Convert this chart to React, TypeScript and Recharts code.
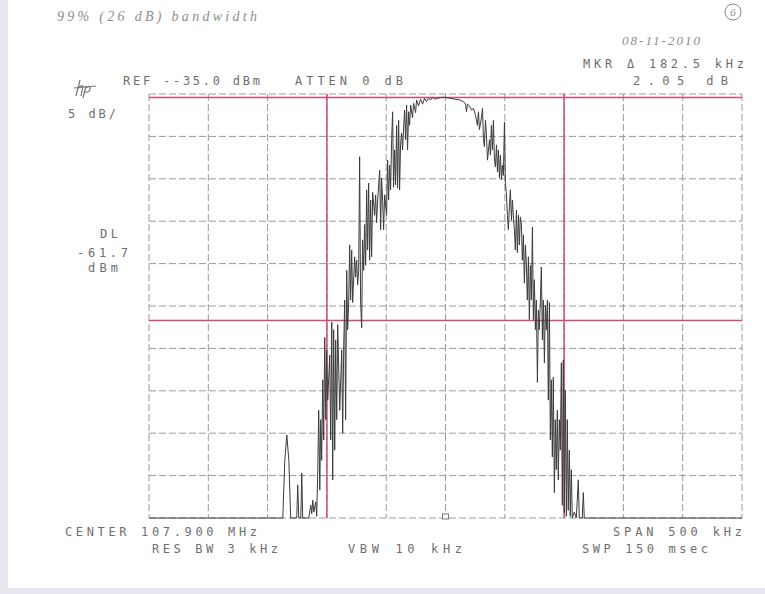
import React from 'react';
import { LineChart, Line, XAxis, YAxis, CartesianGrid, ReferenceLine, ReferenceDot } from 'recharts';

// sweep: offset from centre 107.900 MHz (kHz) and level (dBm)
const freqKHz = [
  -250, -137.2, -135.5, -133.8, -132.1, -130.5, -125.4, -124.6, -123.7, -122.0,
  -121.2, -120.4, -115.3, -113.6, -112.8, -111.9, -111.1, -109.4, -108.6, -107.7,
  -106.9, -106.0, -105.2, -104.4, -103.5, -102.7, -101.8, -101.0, -100.2, -99.3,
  -97.6, -96.8, -95.9, -95.1, -94.3, -93.4, -92.6, -91.7, -90.9, -89.2,
  -87.5, -86.7, -85.8, -85.0, -84.2, -83.3, -82.5, -81.6, -80.8, -80.0,
  -79.1, -78.3, -76.6, -75.8, -74.9, -74.1, -73.2, -72.4, -71.6, -70.7,
  -69.9, -69.0, -68.2, -67.3, -66.5, -65.7, -64.8, -64.0, -63.1, -62.3,
  -61.4, -59.8, -58.9, -58.1, -57.2, -55.5, -54.7, -53.9, -53.0, -52.2,
  -51.3, -49.7, -48.8, -48.0, -47.1, -46.3, -45.4, -44.6, -43.8, -42.9,
  -42.1, -41.2, -40.4, -39.5, -38.7, -37.9, -37.0, -36.2, -35.3, -34.5,
  -33.6, -32.8, -32.0, -31.1, -30.3, -29.4, -27.8, -26.9, -25.2, -24.4,
  -22.7, -21.0, -19.3, -17.7, -16.0, -14.3, -12.6, -10.9, -9.2, -6.7,
  -3.4, 0.0, 3.4, 7.6, 11.8, 15.2, 16.9, 17.7, 18.5, 20.2,
  21.9, 23.6, 25.3, 26.9, 27.8, 28.6, 30.3, 31.2, 32.0, 32.8,
  33.7, 34.5, 35.4, 37.1, 37.9, 38.7, 39.6, 40.4, 41.3, 42.1,
  43.0, 43.8, 44.6, 45.5, 46.3, 47.2, 48.0, 48.8, 49.7, 50.5,
  51.4, 52.2, 53.0, 53.9, 54.7, 55.6, 56.4, 57.3, 58.1, 58.9,
  59.8, 60.6, 61.5, 62.3, 63.1, 64.0, 64.8, 65.7, 66.5, 67.4,
  68.2, 69.0, 69.9, 70.7, 71.6, 72.4, 73.3, 74.1, 74.9, 75.8,
  76.6, 77.5, 78.3, 79.1, 80.0, 80.8, 81.7, 82.5, 83.4, 84.2,
  85.0, 85.9, 86.7, 87.6, 88.4, 89.2, 90.1, 90.9, 91.8, 92.6,
  93.4, 94.3, 95.1, 96.0, 96.8, 97.7, 98.5, 99.3, 100.2, 101.0,
  101.9, 102.7, 103.5, 104.4, 105.2, 106.1, 106.9, 108.6, 110.3, 111.1,
  112.0, 112.8, 115.3, 116.2, 117.0, 250,
];

const levelDBm = [
  -85, -85, -78.2, -75.2, -78.2, -85, -85, -81.1, -85, -85,
  -79.7, -85, -85, -83.5, -84.5, -82.9, -84.3, -83.1, -84.8, -79.3,
  -72.3, -81.7, -73.4, -78.2, -68.7, -75.8, -63.7, -73.4, -65.2, -71.1,
  -65.8, -75.8, -61.9, -80.5, -62.8, -77.0, -64.0, -73.4, -62.2, -72.3,
  -65.2, -75.0, -64.6, -59.3, -73.4, -55.8, -62.8, -59.3, -52.8, -59.3,
  -53.4, -59.6, -54.2, -56.6, -54.6, -57.5, -55.8, -42.4, -59.3, -62.6,
  -52.2, -55.8, -50.4, -55.2, -46.3, -53.4, -45.5, -54.6, -47.5, -54.2,
  -46.6, -49.3, -46.9, -50.2, -47.5, -44.0, -51.0, -44.9, -47.5, -51.0,
  -46.9, -49.3, -42.8, -47.5, -43.4, -46.3, -40.4, -37.1, -46.0, -41.6,
  -45.7, -38.7, -46.1, -38.1, -46.3, -41.0, -39.6, -41.6, -39.0, -36.9,
  -40.4, -36.3, -41.6, -37.1, -38.7, -36.3, -37.8, -36.1, -37.2, -35.7,
  -36.4, -35.6, -36.2, -35.5, -35.9, -35.5, -35.7, -35.4, -35.6, -35.5,
  -35.4, -35.4, -35.5, -35.6, -35.7, -35.9, -36.2, -37.1, -36.2, -36.4,
  -36.9, -36.7, -37.5, -38.7, -37.1, -39.2, -37.8, -36.7, -40.4, -41.2,
  -38.1, -39.8, -42.8, -40.4, -42.2, -38.7, -41.6, -38.1, -42.8, -43.6,
  -41.0, -44.2, -41.6, -44.9, -42.2, -45.1, -43.4, -44.6, -38.3, -45.5,
  -46.9, -49.3, -51.0, -48.1, -46.3, -49.9, -47.5, -49.6, -51.0, -53.4,
  -48.7, -53.7, -49.3, -52.8, -49.5, -50.4, -54.6, -51.6, -57.3, -52.8,
  -55.2, -59.3, -54.2, -61.6, -55.2, -59.3, -50.7, -61.6, -56.9, -62.8,
  -59.3, -69.0, -60.5, -62.8, -59.3, -55.4, -64.0, -59.3, -66.7, -59.9,
  -62.8, -59.3, -71.1, -59.6, -75.8, -68.7, -77.8, -68.4, -82.0, -73.4,
  -79.3, -72.3, -80.5, -73.4, -77.0, -66.7, -83.5, -66.4, -84.4, -69.9,
  -84.8, -73.4, -84.1, -77.0, -84.8, -79.3, -85, -84.3, -85, -82.9,
  -80.5, -85, -85, -82.0, -85, -85,
];

const freqTicks = [-250, -200, -150, -100, -50, 0, 50, 100, 150, 200, 250];
const levelTicks = [-85, -80, -75, -70, -65, -60, -55, -50, -45, -40, -35];

const markerLevel = -35.4;
const displayLine = -61.7;
const bandEdges = [-100, 100];

const data = freqKHz.map((f, i) => ({ f, dBm: levelDBm[i] }));

const PINK = '#d4487c';
const INK = '#6e6e6e';
const mono = { fontFamily: '"DejaVu Sans Mono", monospace', fontSize: 12, fill: INK };
const hand = { fontFamily: '"Liberation Serif", serif', fontStyle: 'italic' as const, fill: '#8c8c8c' };

const Label = ({ x, y, w, children, style = mono }: any) => (
  <text x={x} y={y} textLength={w} lengthAdjust="spacing" style={style}>
    {children}
  </text>
);

const CentreMark = (props: any) => {
  const { cx, cy } = props;
  return <rect x={cx - 3} y={cy - 4} width={6} height={5} fill="#fff" stroke="#777" strokeWidth={1} />;
};

export default function App() {
  return (
    <div style={{ position: 'absolute', left: 0, top: 0, width: 765, height: 594, background: '#fff', overflow: 'hidden' }}>
      <div style={{ position: 'absolute', left: 0, top: 0, width: 8, height: 594, background: '#e7e7ef' }} />
      <div style={{ position: 'absolute', left: 0, top: 588, width: 765, height: 6, background: '#e7e7ef' }} />
      <div style={{ position: 'absolute', left: 0, top: 0 }}>
        <LineChart width={765} height={594} data={data} margin={{ top: 94, right: 23, bottom: 76, left: 149 }}>
          <CartesianGrid stroke="#9a9a9a" strokeDasharray="7 3" horizontalValues={levelTicks} verticalValues={freqTicks} />
          <XAxis type="number" dataKey="f" domain={[-250, 250]} ticks={freqTicks} hide />
          <YAxis type="number" domain={[-85, -35]} ticks={levelTicks} hide />
          <ReferenceLine y={markerLevel} stroke={PINK} strokeWidth={1.5} />
          <ReferenceLine y={displayLine} stroke={PINK} strokeWidth={1.5} />
          {bandEdges.map((b) => (
            <ReferenceLine key={b} x={b} stroke={PINK} strokeWidth={1.5} />
          ))}
          <Line
            type="linear"
            dataKey="dBm"
            stroke="#3c3c3c"
            strokeWidth={1}
            dot={false}
            isAnimationActive={false}
          />
          <ReferenceDot x={0} y={-85} r={3} shape={CentreMark} />
        </LineChart>
      </div>
      <svg width={765} height={594} style={{ position: 'absolute', left: 0, top: 0, pointerEvents: 'none' }}>
        <Label x={57} y={21} w={200} style={{ ...hand, fontSize: 14 }}>99% (26 dB) bandwidth</Label>
        <circle cx={733} cy={12} r={8} fill="none" stroke="#888" strokeWidth={1} />
        <text x={733} y={16} textAnchor="middle" style={{ ...hand, fontSize: 11 }}>6</text>
        <Label x={622} y={45} w={78} style={{ ...hand, fontSize: 13 }}>08-11-2010</Label>

        <Label x={583} y={68} w={161}>MKR Δ 182.5 kHz</Label>
        <Label x={633} y={85} w={95}>2.05 dB</Label>
        <Label x={123} y={85} w={137}>REF --35.0 dBm</Label>
        <Label x={295} y={85} w={108}>ATTEN 0 dB</Label>

        <g stroke="#777" strokeWidth={1.2} fill="none">
          <path d="M80 80 L76 96 M77 90 Q80 85 83 86 L81 96" />
          <path d="M86 86 L83 98 M85 88 Q91 84 90 90 Q88 93 84 92" />
          <path d="M74 88 L96 86" />
        </g>

        <Label x={68} y={118} w={48}>5 dB/</Label>
        <Label x={100} y={238} w={18}>DL</Label>
        <Label x={77} y={257} w={51}>-61.7</Label>
        <Label x={88} y={272} w={30}>dBm</Label>

        <Label x={65} y={536} w={192}>CENTER 107.900 MHz</Label>
        <Label x={152} y={553} w={126}>RES BW 3 kHz</Label>
        <Label x={348} y={553} w={114}>VBW 10 kHz</Label>
        <Label x={613} y={536} w={129}>SPAN 500 kHz</Label>
        <Label x={582} y={553} w={126}>SWP 150 msec</Label>
      </svg>
    </div>
  );
}
